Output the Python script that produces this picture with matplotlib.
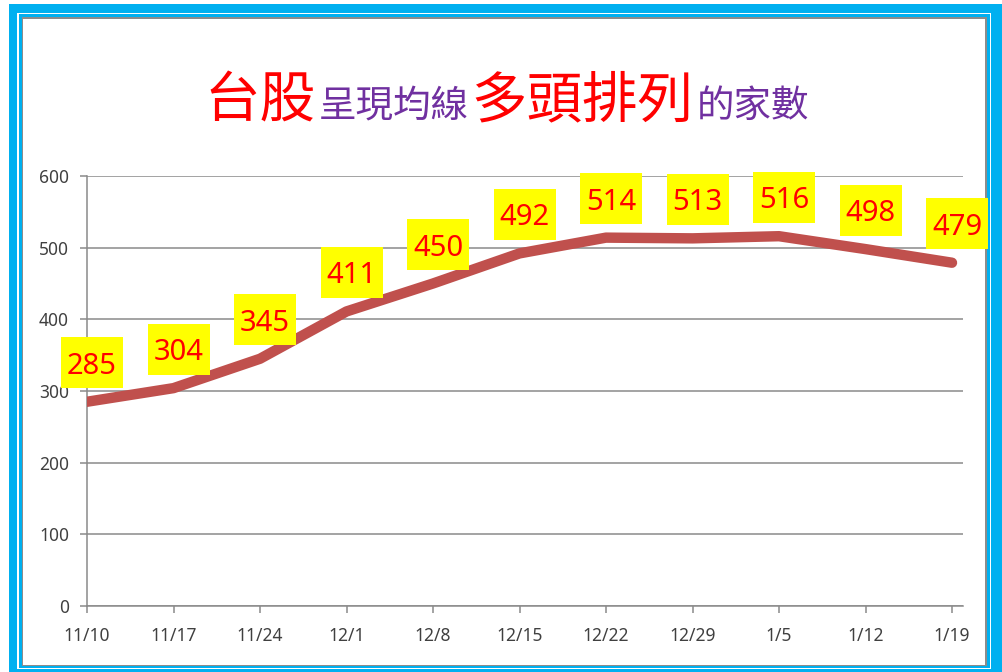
import matplotlib
matplotlib.use("Agg")
import matplotlib.pyplot as plt
from matplotlib.patches import Rectangle
from matplotlib.transforms import ScaledTranslation

# 資料
dates = ["11/10", "11/17", "11/24", "12/1", "12/8", "12/15",
         "12/22", "12/29", "1/5", "1/12", "1/19"]
counts = [285, 304, 345, 411, 450, 492, 514, 513, 516, 498, 479]

title_parts = [("台股", "#FF0000", 40), ("呈現均線", "#7030A0", 27),
               ("多頭排列", "#FF0000", 40), ("的家數", "#7030A0", 27)]

W, H = 1002, 672
fig = plt.figure(figsize=(W / 100, H / 100), dpi=100)
fig.patch.set_facecolor("white")


def frame(x0, y0, x1, y1, color):
    # 以像素(由上往下)描述的矩形
    fig.patches.append(Rectangle((x0, H - y1), x1 - x0, y1 - y0,
                                 transform=None, facecolor=color,
                                 edgecolor="none", zorder=-10))


BLUE = "#00B0F0"
frame(9, 4, 1010, 680, BLUE)
frame(17, 13, 991, 669, "white")
frame(18.5, 14, 990, 668, BLUE)
frame(21.5, 17, 987, 666, "#8C8C8C")
frame(23, 18.5, 985, 664.5, "white")

ax = fig.add_axes([87 / W, (H - 606) / H, (963 - 87) / W, (606 - 176) / H])
ax.set_facecolor("none")

x = list(range(len(dates)))
ax.plot(x, counts, color="#C0504D", linewidth=7.5, solid_capstyle="round",
        solid_joinstyle="round", zorder=3)

# 數據標籤:黃底紅字 (方塊大小以像素計)
BOX_W, BOX_H = 62, 51
DX, DY = 5, 39
for xi, v in zip(x, counts):
    tr = fig.dpi_scale_trans + ScaledTranslation(xi, v, ax.transData)
    ax.add_patch(Rectangle(((DX - BOX_W / 2) / 100, (DY - BOX_H / 2) / 100),
                           BOX_W / 100, BOX_H / 100, transform=tr,
                           facecolor="#FFFF00", edgecolor="none",
                           zorder=4, clip_on=False))
    ax.annotate(str(v), (xi, v), xytext=(DX * 0.72, DY * 0.72),
                textcoords="offset points", ha="center", va="center_baseline",
                fontsize=21, color="#FF0000",
                family=["Noto Sans", "DejaVu Sans"], zorder=5)

ax.set_xlim(0, (963 - 87) / 86.5)
ax.set_ylim(0, 600)
ax.set_yticks(range(0, 601, 100))
ax.set_xticks(x)
ax.set_xticklabels(dates)

GRID = "#8A8A8A"
ax.grid(axis="y", color=GRID, linewidth=1.1, zorder=0)
ax.set_axisbelow(True)
for s in ["top", "right"]:
    ax.spines[s].set_visible(False)
for s in ["left", "bottom"]:
    ax.spines[s].set_color(GRID)
    ax.spines[s].set_linewidth(1.1)
ax.tick_params(axis="both", colors=GRID, length=5, width=1.1,
               labelcolor="#404040", labelsize=12.5)
ax.tick_params(axis="y", pad=8)
ax.tick_params(axis="x", pad=10)
for lbl in ax.get_xticklabels() + ax.get_yticklabels():
    lbl.set_family(["Noto Sans", "DejaVu Sans"])

# 標題:多色多字級,依基線排列
renderer = fig.canvas.get_renderer()
texts = []
for s, c, fs in title_parts:
    t = fig.text(0, 0, s, color=c, fontsize=fs, family=["Noto Sans CJK TC"],
                 weight="medium", ha="left", va="baseline", transform=None)
    texts.append(t)
widths = [t.get_window_extent(renderer).width for t in texts]
gap = 3
total = sum(widths) + gap * (len(widths) - 1)
cur = 507 - total / 2
base = H - 117
for t, w in zip(texts, widths):
    t.set_position((cur, base))
    cur += w + gap

fig.savefig("out.png", dpi=100)
